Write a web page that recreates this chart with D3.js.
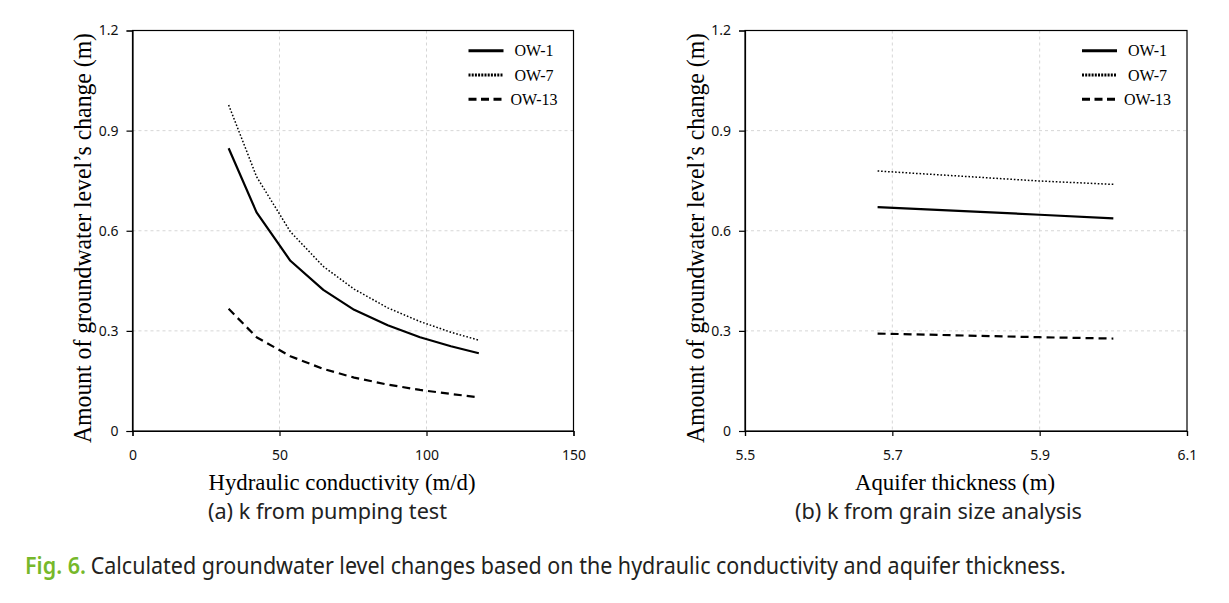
<!DOCTYPE html>
<html>
<head>
<meta charset="utf-8">
<script src="https://cdn.jsdelivr.net/npm/d3@7/dist/d3.min.js"></script>
<style>
  html, body { margin: 0; padding: 0; background: #fff; }
  svg { display: block; }
</style>
</head>
<body>
<svg id="chart" width="1229" height="603"></svg>
<script>
// ---- Data ----
const seriesNames = ["OW-1", "OW-7", "OW-13"];

// (a) k from pumping test
const conductivity = [32.7, 42.2, 53.7, 64.9, 75.4, 86.8, 97.8, 108.3, 117.8];
const aOW1  = [0.847, 0.655, 0.510, 0.423, 0.363, 0.317, 0.281, 0.254, 0.233];
const aOW7  = [0.977, 0.762, 0.597, 0.493, 0.425, 0.369, 0.328, 0.296, 0.272];
const aOW13 = [0.366, 0.281, 0.224, 0.186, 0.160, 0.139, 0.123, 0.111, 0.101];

// (b) k from grain size analysis
const thickness = [5.68, 5.90, 6.00];
const bOW1  = [0.671, 0.648, 0.637];
const bOW7  = [0.779, 0.749, 0.739];
const bOW13 = [0.292, 0.281, 0.277];

const yTicks = [0, 0.3, 0.6, 0.9, 1.2];
const xTicksA = [0, 50, 100, 150];
const xTicksB = [5.5, 5.7, 5.9, 6.1];

const yTitle = "Amount of groundwater level\u2019s change (m)";
const xTitleA = "Hydraulic conductivity (m/d)";
const xTitleB = "Aquifer thickness (m)";
const subA = "(a) k from pumping test";
const subB = "(b) k from grain size analysis";
const capLabel = "Fig. 6.";
const capText = "Calculated groundwater level changes based on the hydraulic conductivity and aquifer thickness.";

// ---- Styles ----
const styles = {
  "OW-1":  { width: 2.2, dash: null,      legW: 3,   legDash: null },
  "OW-7":  { width: 1.5, dash: "1.6,1.9", legW: 3.2, legDash: "2,1.2" },
  "OW-13": { width: 2.2, dash: "8,5",     legW: 3,   legDash: "8,4.5" }
};

const svg = d3.select("#chart");
const serif = "'Liberation Serif','Times New Roman',serif";
const sans = "'Noto Sans','Open Sans',sans-serif";

function panel(opts) {
  const { x0, x1, xDomain, xTicks, xFmt, xs, ys, xTitle, xTitleLen, sub, subLen, subX } = opts;
  const yTop = 30.5, yBot = 431;
  const x = d3.scaleLinear().domain(xDomain).range([x0, x1]);
  const y = d3.scaleLinear().domain([0, 1.2]).range([yBot, yTop]);
  const g = svg.append("g");

  // grid
  g.append("g").selectAll("line").data(yTicks.filter(t => t > 0 && t < 1.2)).join("line")
    .attr("x1", x0).attr("x2", x1).attr("y1", d => y(d)).attr("y2", d => y(d))
    .attr("stroke", "#d6d6d6").attr("stroke-width", 1).attr("stroke-dasharray", "3,3");
  g.append("g").selectAll("line").data(xTicks.slice(1, -1)).join("line")
    .attr("x1", d => x(d)).attr("x2", d => x(d)).attr("y1", yTop).attr("y2", yBot)
    .attr("stroke", "#d6d6d6").attr("stroke-width", 1).attr("stroke-dasharray", "3,3");

  // frame
  g.append("rect").attr("x", x0).attr("y", yTop).attr("width", x1 - x0).attr("height", yBot - yTop)
    .attr("fill", "none").attr("stroke", "#000").attr("stroke-width", 1.2);

  // axes
  const ax = g.append("g").attr("transform", `translate(0,${yBot})`)
    .call(d3.axisBottom(x).tickValues(xTicks).tickFormat(xFmt).tickSize(5).tickPadding(14));
  const ay = g.append("g").attr("transform", `translate(${x0},0)`)
    .call(d3.axisLeft(y).tickValues(yTicks).tickFormat(d => d === 0 ? "0" : d3.format(".1f")(d)).tickSize(6).tickPadding(8));
  [ax, ay].forEach(a => {
    a.select(".domain").attr("stroke", "#000").attr("stroke-width", 1.2);
    a.selectAll(".tick line").attr("stroke", "#000").attr("stroke-width", 1.2);
    a.selectAll(".tick text").attr("fill", "#111").attr("font-family", sans).attr("font-size", 14);
  });

  // lines
  const line = d3.line().x(d => x(d[0])).y(d => y(d[1]));
  ys.forEach((vals, i) => {
    const st = styles[seriesNames[i]];
    g.append("path").datum(xs.map((v, j) => [v, vals[j]]))
      .attr("d", line).attr("fill", "none").attr("stroke", "#000")
      .attr("stroke-width", st.width).attr("stroke-dasharray", st.dash)
      .attr("stroke-linejoin", "round");
  });

  // legend
  const lx = x1 - 105;
  const legY = [50.7, 75, 99.3];
  seriesNames.forEach((name, i) => {
    const st = styles[name];
    g.append("line").attr("x1", lx).attr("x2", lx + 35).attr("y1", legY[i]).attr("y2", legY[i])
      .attr("stroke", "#000").attr("stroke-width", st.legW).attr("stroke-dasharray", st.legDash);
    g.append("text").attr("x", i === 2 ? lx + 42 : lx + 46).attr("y", legY[i] + 5.5)
      .attr("font-family", serif).attr("font-size", 16).attr("fill", "#000").text(name);
  });

  // y title
  g.append("text").attr("transform", `translate(${x0 - 41.5},238) rotate(-90)`)
    .attr("text-anchor", "middle").attr("font-family", serif).attr("font-size", 25)
    .attr("textLength", 410).attr("lengthAdjust", "spacingAndGlyphs")
    .attr("fill", "#000").text(yTitle);

  // x title
  g.append("text").attr("x", (x0 + x1) / 2 - (opts.xTitleShift || 0)).attr("y", 490)
    .attr("text-anchor", "middle").attr("font-family", serif).attr("font-size", 24)
    .attr("textLength", xTitleLen).attr("lengthAdjust", "spacingAndGlyphs")
    .attr("fill", "#000").text(xTitle);

  // subtitle
  g.append("text").attr("x", subX).attr("y", 519)
    .attr("text-anchor", "middle").attr("font-family", sans).attr("font-size", 22.5)
    .attr("textLength", subLen).attr("lengthAdjust", "spacingAndGlyphs")
    .attr("fill", "#222").text(sub);
}

panel({
  x0: 132.5, x1: 573.5, xDomain: [0, 150], xTicks: xTicksA, xFmt: d3.format("d"),
  xs: conductivity, ys: [aOW1, aOW7, aOW13],
  xTitle: xTitleA, xTitleLen: 267, xTitleShift: 11, sub: subA, subLen: 239, subX: 327.5
});
panel({
  x0: 745, x1: 1187, xDomain: [5.5, 6.1], xTicks: xTicksB, xFmt: d3.format(".1f"),
  xs: thickness, ys: [bOW1, bOW7, bOW13],
  xTitle: xTitleB, xTitleLen: 200, xTitleShift: 11, sub: subB, subLen: 287, subX: 938.5
});

// caption
svg.append("text").attr("x", 25).attr("y", 574)
  .attr("font-family", sans).attr("font-size", 23.5).attr("font-weight", 600)
  .attr("textLength", 61).attr("lengthAdjust", "spacingAndGlyphs")
  .attr("fill", "#76b82a").text(capLabel);
svg.append("text").attr("x", 90.7).attr("y", 574)
  .attr("font-family", sans).attr("font-size", 23.5)
  .attr("textLength", 975).attr("lengthAdjust", "spacingAndGlyphs")
  .attr("fill", "#231f20").text(capText);
</script>
</body>
</html>
